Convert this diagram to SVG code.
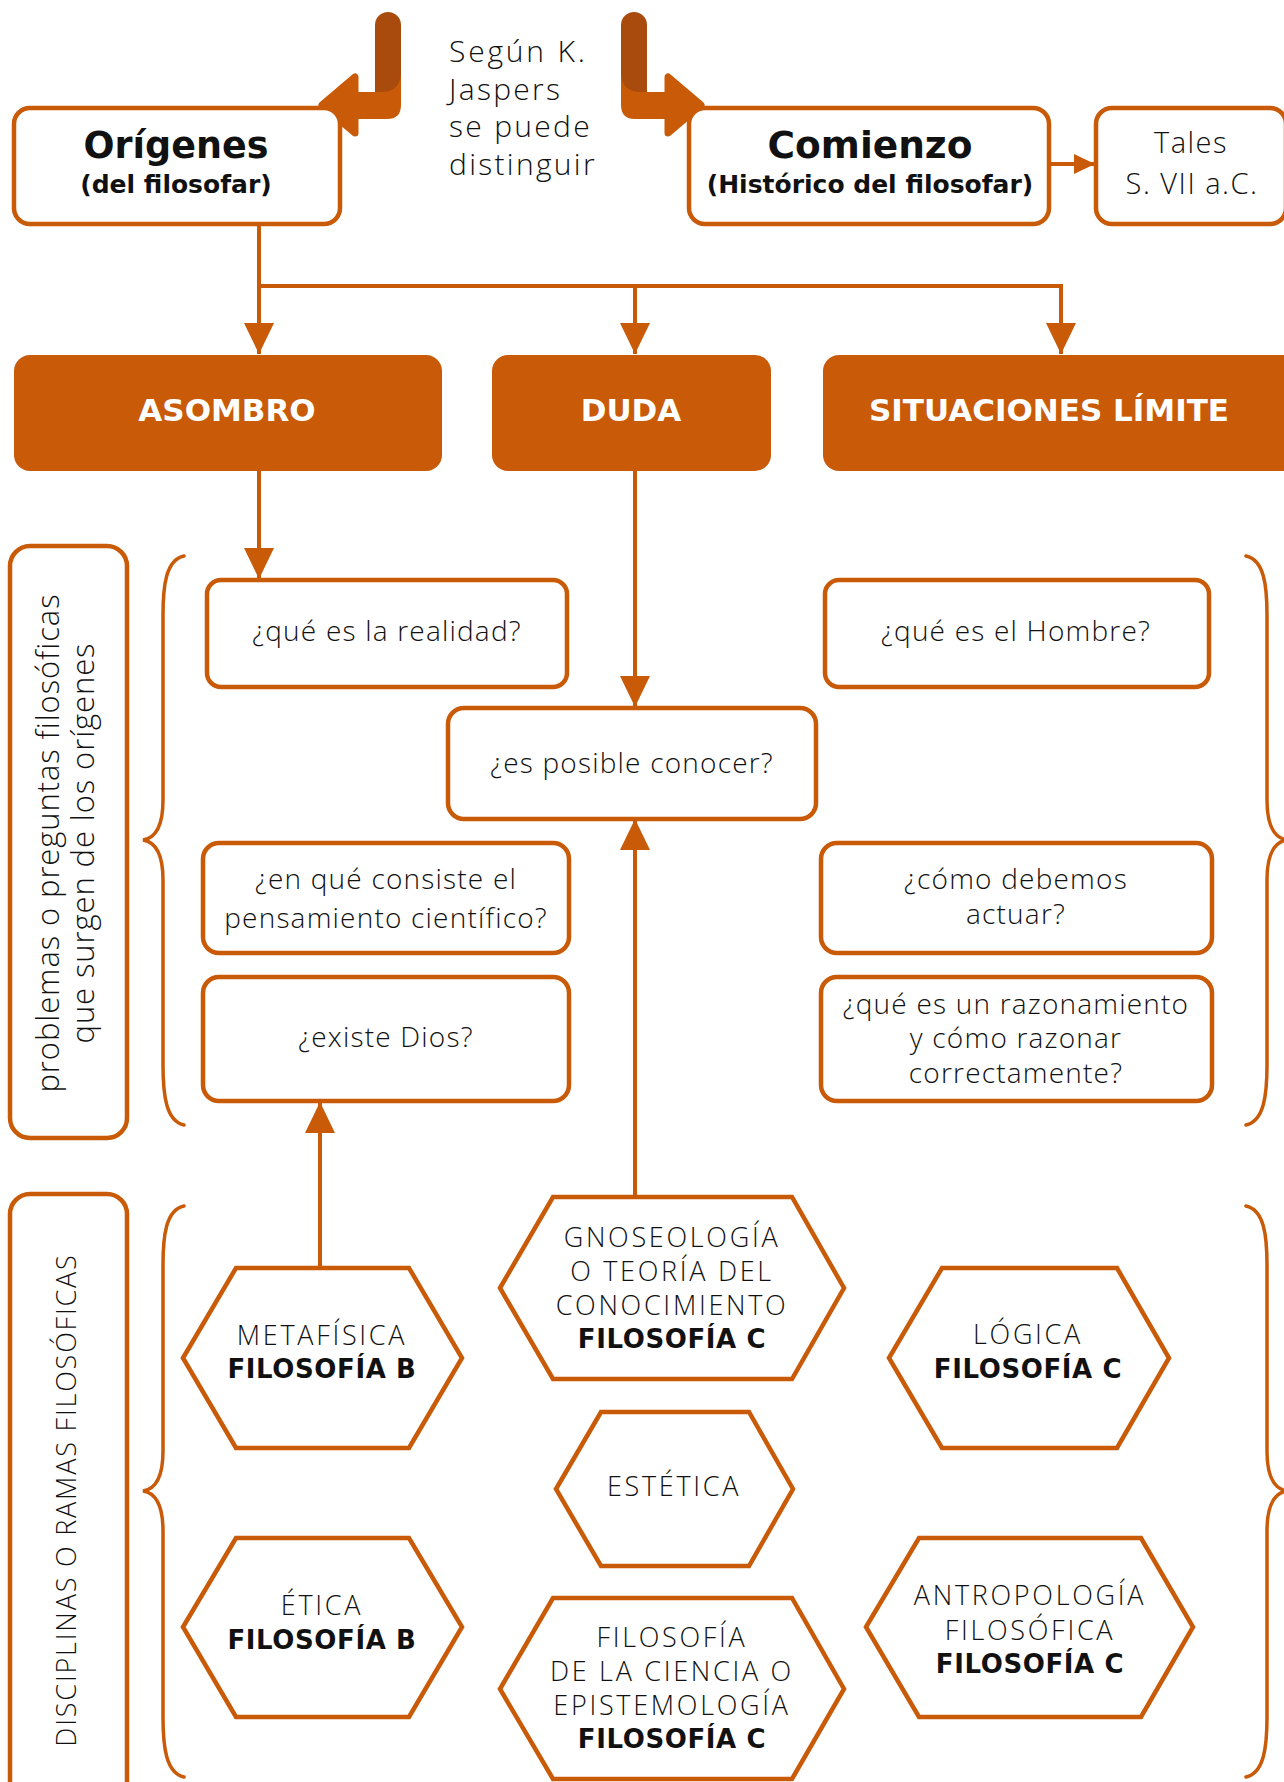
<svg xmlns="http://www.w3.org/2000/svg" width="1284" height="1782" viewBox="0 0 1284 1782">
<defs>
<style>
.box{fill:#fff;stroke:#C85A08;stroke-width:4.5}
.fill{fill:#C85A08}
.hex{fill:#fff;stroke:#C85A08;stroke-width:4.5;stroke-linejoin:miter}
.line{fill:none;stroke:#C85A08;stroke-width:4}
.brace{fill:none;stroke:#C85A08;stroke-width:3.5;stroke-linecap:round}
.lt{font-family:"Open Sans","Liberation Sans",sans-serif;font-weight:300;fill:#111;text-anchor:middle}
.q{font-size:28px;letter-spacing:1.2px}
.cap{font-size:27px;letter-spacing:2.7px}
.bd{font-family:"DejaVu Sans","Liberation Sans",sans-serif;font-weight:700;fill:#111;text-anchor:middle}
.hb{font-size:26px;letter-spacing:0.6px}
.wt{font-family:"DejaVu Sans","Liberation Sans",sans-serif;font-weight:700;fill:#fff;font-size:31px;text-anchor:middle}
.intro{font-size:30px;letter-spacing:2.3px;text-anchor:start}
</style>
<marker id="ah" markerUnits="userSpaceOnUse" markerWidth="32" markerHeight="32" refX="31" refY="15" orient="auto" viewBox="0 0 32 30">
<path d="M0,0 L31,15 L0,30 Z" fill="#C85A08"/>
</marker>
<marker id="ahs" markerUnits="userSpaceOnUse" markerWidth="22" markerHeight="22" refX="21" refY="10" orient="auto" viewBox="0 0 22 20">
<path d="M0,0 L21,10 L0,20 Z" fill="#C85A08"/>
</marker>
</defs>
<rect width="1284" height="1782" fill="#fff"/>

<g id="bent-left">
<path d="M375,60 H401 V105 Q401,119 387,119 H350 V92 H375 Z" fill="#C85A08"/>
<path d="M375,25 A13,13 0 0 1 401,25 V72 Q401,92 381,92 H375 Z" fill="#A84B0D"/>
<polygon points="322,105 355,77 355,133" fill="#C85A08" stroke="#C85A08" stroke-width="7" stroke-linejoin="round"/>
</g>
<g id="bent-right">
<path d="M647,60 H621 V105 Q621,119 635,119 H672 V92 H647 Z" fill="#C85A08"/>
<path d="M621,25 A13,13 0 0 1 647,25 V92 H641 Q621,92 621,72 Z" fill="#A84B0D"/>
<polygon points="701,105 668,77 668,133" fill="#C85A08" stroke="#C85A08" stroke-width="7" stroke-linejoin="round"/>
</g>

<g id="connectors">
<path class="line" d="M259,224 V354" marker-end="url(#ah)"/>
<path class="line" d="M259,286 H1061 V354"/>
<path class="line" d="M1061,286 V354" marker-end="url(#ah)"/>
<path class="line" d="M635,286 V354" marker-end="url(#ah)"/>
<path class="line" d="M259,471 V579" marker-end="url(#ah)"/>
<path class="line" d="M635,471 V707" marker-end="url(#ah)"/>
<path class="line" d="M635,1197 V819" marker-end="url(#ah)"/>
<path class="line" d="M320,1268 V1102" marker-end="url(#ah)"/>
<path class="line" d="M1049,164 H1095" marker-end="url(#ahs)"/>
</g>

<g id="intro">
<text class="lt intro" x="449" y="62" style="letter-spacing:2.8px">Según K.</text>
<text class="lt intro" x="449" y="100">Jaspers</text>
<text class="lt intro" x="449" y="137">se puede</text>
<text class="lt intro" x="449" y="175">distinguir</text>
</g>

<g id="origenes">
<rect class="box" x="14" y="108" width="326" height="116" rx="16"/>
<text class="bd" x="176" y="158" style="font-size:36.5px">Orígenes</text>
<text class="bd" x="176" y="193" style="font-size:25px">(del filosofar)</text>
</g>
<g id="comienzo">
<rect class="box" x="689" y="108" width="360" height="116" rx="16"/>
<text class="bd" x="870" y="158" style="font-size:37.5px">Comienzo</text>
<text class="bd" x="870" y="193" style="font-size:25px">(Histórico del filosofar)</text>
</g>
<g id="tales">
<rect class="box" x="1096" y="108" width="190" height="116" rx="16"/>
<text class="lt" x="1191" y="153" style="font-size:29px;letter-spacing:1.5px">Tales</text>
<text class="lt" x="1192" y="194" style="font-size:29px;letter-spacing:1.5px">S. VII a.C.</text>
</g>

<g id="asombro">
<rect class="fill" x="14" y="355" width="428" height="116" rx="16"/>
<text class="wt" x="227" y="421">ASOMBRO</text>
</g>
<g id="duda">
<rect class="fill" x="492" y="355" width="279" height="116" rx="16"/>
<text class="wt" x="631" y="421">DUDA</text>
</g>
<g id="situaciones">
<rect class="fill" x="823" y="355" width="480" height="116" rx="16"/>
<text class="wt" x="1049" y="421">SITUACIONES LÍMITE</text>
</g>

<g id="problemas-label">
<rect class="box" x="10" y="546" width="117" height="592" rx="20"/>
<g transform="translate(72,843) rotate(-90)">
<text class="lt" x="0" y="-13" style="font-size:31px;letter-spacing:0.9px">problemas o preguntas filosóficas</text>
<text class="lt" x="0" y="22" style="font-size:31px;letter-spacing:0.9px">que surgen de los orígenes</text>
</g>
</g>
<g id="braces-top">
<path class="brace" d="M184,556 C166,560 163,585 163,615 L163,800 C163,826 156,838 143,840 C156,842 163,854 163,880 L163,1065 C163,1095 166,1121 184,1125"/>
<path class="brace" d="M1246,556 C1264,560 1267,585 1267,615 L1267,800 C1267,826 1274,838 1287,840 C1274,842 1267,854 1267,880 L1267,1065 C1267,1095 1264,1121 1246,1125"/>
</g>

<g id="q-realidad">
<rect class="box" x="207" y="580" width="360" height="107" rx="14"/>
<text class="lt q" x="387" y="641">¿qué es la realidad?</text>
</g>
<g id="q-hombre">
<rect class="box" x="825" y="580" width="384" height="107" rx="14"/>
<text class="lt q" x="1016" y="641">¿qué es el Hombre?</text>
</g>
<g id="q-conocer">
<rect class="box" x="448" y="708" width="368" height="111" rx="16"/>
<text class="lt q" x="632" y="773">¿es posible conocer?</text>
</g>
<g id="q-cientifico">
<rect class="box" x="203" y="843" width="366" height="110" rx="16"/>
<text class="lt q" x="386" y="889">¿en qué consiste el</text>
<text class="lt q" x="386" y="928">pensamiento científico?</text>
</g>
<g id="q-actuar">
<rect class="box" x="821" y="843" width="391" height="110" rx="16"/>
<text class="lt q" x="1016" y="889">¿cómo debemos</text>
<text class="lt q" x="1016" y="924">actuar?</text>
</g>
<g id="q-dios">
<rect class="box" x="203" y="977" width="366" height="124" rx="16"/>
<text class="lt q" x="386" y="1047">¿existe Dios?</text>
</g>
<g id="q-razonamiento">
<rect class="box" x="821" y="977" width="391" height="124" rx="16"/>
<text class="lt q" x="1016" y="1014">¿qué es un razonamiento</text>
<text class="lt q" x="1016" y="1048">y cómo razonar</text>
<text class="lt q" x="1016" y="1083">correctamente?</text>
</g>

<g id="disciplinas-label">
<rect class="box" x="10" y="1194" width="117" height="620" rx="20"/>
<text class="lt" transform="translate(76,1500) rotate(-90)" x="0" y="0" style="font-size:27px;letter-spacing:1.8px">DISCIPLINAS O RAMAS FILOSÓFICAS</text>
</g>
<g id="braces-bottom">
<path class="brace" d="M184,1206 C166,1210 163,1235 163,1265 L163,1451 C163,1477 156,1489 143,1491 C156,1493 163,1505 163,1531 L163,1717 C163,1747 166,1773 184,1777"/>
<path class="brace" d="M1246,1206 C1264,1210 1267,1235 1267,1265 L1267,1451 C1267,1477 1274,1489 1287,1491 C1274,1493 1267,1505 1267,1531 L1267,1717 C1267,1747 1264,1773 1246,1777"/>
</g>

<g id="metafisica">
<polygon class="hex" points="183,1358 236,1268 409,1268 462,1358 409,1448 236,1448"/>
<text class="lt cap" x="322" y="1345">METAFÍSICA</text>
<text class="bd hb" x="322" y="1378">FILOSOFÍA B</text>
</g>
<g id="etica">
<polygon class="hex" points="183,1627 236,1538 409,1538 462,1627 409,1717 236,1717"/>
<text class="lt cap" x="322" y="1615">ÉTICA</text>
<text class="bd hb" x="322" y="1649">FILOSOFÍA B</text>
</g>
<g id="gnoseologia">
<polygon class="hex" points="500,1288 553,1197 792,1197 844,1288 792,1379 553,1379"/>
<text class="lt cap" x="672" y="1247">GNOSEOLOGÍA</text>
<text class="lt cap" x="672" y="1281">O TEORÍA DEL</text>
<text class="lt cap" x="672" y="1315">CONOCIMIENTO</text>
<text class="bd hb" x="672" y="1348">FILOSOFÍA C</text>
</g>
<g id="estetica">
<polygon class="hex" points="556,1489 601,1412 749,1412 793,1489 749,1566 601,1566"/>
<text class="lt cap" x="674" y="1496">ESTÉTICA</text>
</g>
<g id="filosofia-ciencia">
<polygon class="hex" points="500,1689 553,1598 792,1598 844,1689 792,1779 553,1779"/>
<text class="lt cap" x="672" y="1647">FILOSOFÍA</text>
<text class="lt cap" x="672" y="1681">DE LA CIENCIA O</text>
<text class="lt cap" x="672" y="1715">EPISTEMOLOGÍA</text>
<text class="bd hb" x="672" y="1748">FILOSOFÍA C</text>
</g>
<g id="logica">
<polygon class="hex" points="889,1358 942,1268 1117,1268 1169,1358 1117,1448 942,1448"/>
<text class="lt cap" x="1028" y="1344">LÓGICA</text>
<text class="bd hb" x="1028" y="1378">FILOSOFÍA C</text>
</g>
<g id="antropologia">
<polygon class="hex" points="866,1627 919,1538 1141,1538 1193,1627 1141,1717 919,1717"/>
<text class="lt cap" x="1030" y="1605">ANTROPOLOGÍA</text>
<text class="lt cap" x="1030" y="1640">FILOSÓFICA</text>
<text class="bd hb" x="1030" y="1673">FILOSOFÍA C</text>
</g>
</svg>
